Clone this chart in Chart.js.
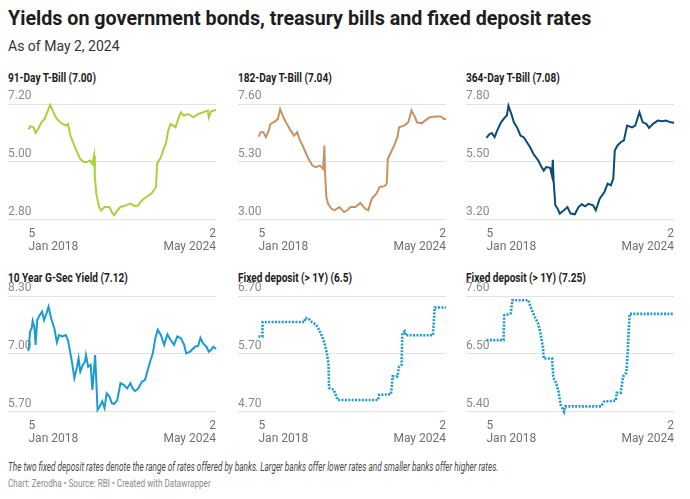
<!DOCTYPE html>
<html lang="en">
<head>
  <meta charset="UTF-8">
  <title>Yields on government bonds, treasury bills and fixed deposit rates</title>
  <script src="https://cdn.jsdelivr.net/npm/chart.js@4.4.1/dist/chart.umd.min.js"></script>
  <style>
    body {
      margin: 0;
      width: 690px;
      height: 499px;
      background: #fff;
      font-family: Roboto, 'Noto Sans', sans-serif;
      color: #1d1d1d;
      position: relative;
      overflow: hidden;
    }
    .hed { position: absolute; left: 8px; top: 5px; font-size: 19.7px; font-weight: 700; line-height: 28px; white-space: nowrap; }
    .dek { position: absolute; left: 8px; top: 37px; font-size: 14px; line-height: 18px; color: #333; }
    .panel-title { position: absolute; font-size: 12px; font-weight: 700; line-height: 16px; color: #1d1d1d;
                   white-space: nowrap; transform: scaleX(0.84); transform-origin: left center; }
    canvas { position: absolute; }
    .note { position: absolute; left: 8px; top: 459px; font-size: 12px; font-style: italic; color: #4a4a4a; line-height: 16px;
            white-space: nowrap; transform: scaleX(0.685); transform-origin: left center; }
    .source { position: absolute; left: 8px; top: 477px; font-size: 11px; color: #8a8a8a; line-height: 14px;
              white-space: nowrap; transform: scaleX(0.74); transform-origin: left center; }
  </style>
</head>
<body>
  <div class="hed">Yields on government bonds, treasury bills and fixed deposit rates</div>
  <div class="dek">As of May 2, 2024</div>
  <div class="note">The two fixed deposit rates denote the range of rates offered by banks. Larger banks offer lower rates and smaller banks offer higher rates.</div>
  <div class="source">Chart: Zerodha • Source: RBI • Created with Datawrapper</div>

  <script>
    // x values = months since 5 Jan 2018 (76 = 2 May 2024)
    const xTickLabels = [['5', 'Jan 2018'], ['2', 'May 2024']];

    const t91X = [0,0.66,1.97,2.88,3.93,5.24,6.55,7.86,8.78,9.83,11.1,12.4,13.8,15.1,16.0,17.0,18.3,19.7,21.0,22.3,23.6,24.9,25.9,26.6,26.9,27.5,28.6,29.5,30.8,32.8,34.1,34.7,36.0,37.3,39.3,41.3,43.2,44.5,45.9,47.8,49.8,51.7,52.1,53.7,55.0,55.7,56.6,57.6,59.6,60.9,61.8,62.9,64.8,66.8,68.8,70.7,72.7,73.1,74.0,76];
    const t91Y = [6.23,6.35,6.32,6.10,6.25,6.50,6.63,6.95,7.17,6.95,6.69,6.54,6.44,6.38,6.44,6.00,5.68,5.37,5.11,4.99,4.99,5.05,4.92,5.24,4.42,3.78,3.28,3.15,3.28,3.28,3.03,2.96,3.15,3.28,3.34,3.41,3.31,3.34,3.53,3.66,3.79,4.04,4.92,5.18,5.56,5.68,6.19,6.44,6.32,6.69,6.88,6.76,6.82,6.69,6.82,6.88,6.95,6.69,6.92,6.97];

    const t182X = [0,0.92,1.97,3.0,3.93,4.85,6.55,7.86,8.78,9.83,11.1,13.1,14.4,15.7,16.8,17.9,19.3,20.6,21.9,23.2,24.9,26.2,26.7,27.0,27.5,28.2,29.5,30.8,32.8,34.7,36.0,37.3,39.3,41.3,43.2,44.5,45.9,47.8,49.1,51.1,52.0,52.4,53.7,55.0,56.3,57.0,59.0,60.7,62.0,63.5,64.2,66.2,67.5,69.4,72.1,74.0,75.1,76];
    const t182Y = [6.30,6.48,6.48,6.28,6.48,6.81,6.90,7.00,7.40,7.14,6.87,6.54,6.34,6.48,6.15,5.95,5.62,5.35,5.15,5.09,5.15,5.02,5.95,4.82,3.90,3.63,3.44,3.37,3.50,3.30,3.37,3.50,3.50,3.66,3.44,3.37,3.83,4.03,4.30,4.33,4.43,5.42,5.68,5.95,6.28,6.67,6.74,6.87,7.34,7.07,6.87,6.83,6.94,7.07,7.10,7.10,7.00,7.00];

    const t364X = [0,1.31,2.23,3.28,4.32,5.9,7.2,8.25,8.9,10.1,11.1,12.4,13.8,15.1,16.4,17.7,19.0,21.0,22.3,23.2,24.2,25.8,26.5,26.9,27.2,27.9,28.8,29.7,31.4,32.8,34.1,35.8,37.3,38.6,40.0,41.3,43.2,44.3,45.9,47.8,49.1,50.4,51.4,52.0,53.1,54.4,55.7,57.0,59.0,60.3,62.0,63.3,64.8,65.9,67.5,69.4,71.4,72.7,74.7,76];
    const t364Y = [6.45,6.61,6.64,6.48,6.74,7.07,7.24,7.34,7.73,7.40,7.07,6.87,6.54,6.48,6.28,6.08,5.82,5.55,5.29,5.15,5.29,5.26,4.96,5.58,4.76,3.77,3.64,3.44,3.57,3.70,3.44,3.41,3.70,3.81,3.73,3.83,3.77,3.57,4.03,4.30,4.63,4.56,4.83,5.95,6.15,6.28,6.35,6.94,6.87,6.94,7.47,7.07,7.01,6.85,7.01,7.14,7.11,7.14,7.07,7.05];

    const gsecX = [0,0.66,1.31,1.7,2.36,2.88,3.54,4.59,5.5,6.29,7.2,8.12,9.17,10.5,11.5,12.4,13.8,15.1,16.0,17.0,17.7,18.6,19.7,20.3,21.0,22.0,22.9,23.3,24.2,25.2,25.9,26.5,27.0,27.5,28.0,28.8,29.9,30.8,31.7,32.8,33.8,34.7,36.0,37.3,38.6,40.0,41.3,42.2,43.2,44.5,45.9,47.2,48.5,49.5,50.4,51.4,52.4,53.7,55.0,56.3,57.6,59.0,60.3,61.8,63.1,63.9,65.5,67.5,68.8,69.7,70.7,72.1,73.1,74.0,74.9,76];
    const gsecY = [7.06,7.50,7.58,7.74,7.61,7.20,7.76,7.87,7.95,7.76,7.89,8.06,7.80,7.57,7.26,7.42,7.39,7.42,7.31,7.01,6.79,6.45,6.71,6.90,6.60,6.75,6.82,6.97,6.71,6.75,6.19,6.60,6.97,6.38,5.74,5.81,5.93,5.78,6.11,6.04,5.89,5.87,5.96,6.34,6.30,6.22,6.34,6.22,6.16,6.22,6.37,6.41,6.67,6.86,7.01,7.35,7.54,7.42,7.20,7.44,7.31,7.20,7.39,7.35,7.20,7.01,7.05,7.16,7.18,7.36,7.24,7.16,7.05,7.09,7.16,7.11];

    const fdLowX = [0,1.57,1.7,18.7,18.9,20.0,21.6,23.2,24.5,25.8,26.9,27.8,28.4,28.6,30.5,32.1,48.5,48.9,53.7,54.4,56.3,57.0,58.0,58.3,59.3,59.6,70.7,71.4,76];
    const fdLowY = [6.00,6.00,6.25,6.25,6.32,6.32,6.25,6.21,6.12,6.00,5.86,5.69,5.51,5.11,5.08,4.90,4.90,4.99,5.00,5.31,5.31,5.48,5.51,6.06,6.09,6.02,6.02,6.50,6.50];

    const fdHighX = [0,6.9,7.2,9.8,10.5,17.0,17.9,19.3,21.0,21.9,22.9,23.2,26.6,27.1,28.2,29.2,30.1,31.4,31.8,46.5,47.6,52.4,52.8,54.4,55.4,56.7,57.2,58.0,76];
    const fdHighY = [6.76,6.76,7.23,7.27,7.52,7.52,7.39,7.23,7.07,6.88,6.62,6.41,6.41,6.04,5.95,5.78,5.53,5.40,5.50,5.50,5.59,5.61,5.76,5.76,6.07,6.14,6.52,7.26,7.26];

    const titles = ['91-Day T-Bill (7.00)', '182-Day T-Bill (7.04)', '364-Day T-Bill (7.08)',
                    '10 Year G-Sec Yield (7.12)', 'Fixed deposit (> 1Y) (6.5)', 'Fixed deposit (> 1Y) (7.25)'];
    const yTicks = [[2.8, 5.0, 7.2], [3.0, 5.3, 7.6], [3.2, 5.5, 7.8],
                    [5.7, 7.0, 8.3], [4.7, 5.7, 6.7], [5.4, 6.5, 7.6]];

    const panels = [
      { xs: t91X, ys: t91Y, color: '#a8d23c', dotted: false },
      { xs: t182X, ys: t182Y, color: '#c99264', dotted: false },
      { xs: t364X, ys: t364Y, color: '#0c4a78', dotted: false },
      { xs: gsecX, ys: gsecY, color: '#1a9bd1', dotted: false },
      { xs: fdLowX, ys: fdLowY, color: '#1a9bd1', dotted: true },
      { xs: fdHighX, ys: fdHighY, color: '#1a9bd1', dotted: true }
    ];

    // layout: left edge of gridlines per column, top gridline per row
    const colLeft = [8, 238, 466];
    const rowGrid = [104, 296];
    const rowTitle = [70, 270];
    const PAD_TOP = 16;

    panels.forEach((p, i) => {
      const col = i % 3, row = Math.floor(i / 3);

      const t = document.createElement('div');
      t.className = 'panel-title';
      t.style.left = colLeft[col] + 'px';
      t.style.top = rowTitle[row] + 'px';
      t.textContent = titles[i];
      document.body.appendChild(t);

      const cv = document.createElement('canvas');
      cv.width = 216; cv.height = 174;
      cv.style.width = '216px'; cv.style.height = '174px';
      cv.style.left = colLeft[col] + 'px';
      cv.style.top = (rowGrid[row] - PAD_TOP) + 'px';
      document.body.appendChild(cv);

      const ticks = yTicks[i];
      new Chart(cv, {
        type: 'line',
        data: {
          datasets: [{
            data: p.xs.map((x, k) => ({ x: x, y: p.ys[k] })),
            borderColor: p.color,
            borderWidth: p.dotted ? 2.6 : 2,
            borderDash: p.dotted ? [2, 1.4] : [],
            pointRadius: 0,
            tension: 0,
            clip: false
          }]
        },
        options: {
          responsive: false,
          animation: false,
          devicePixelRatio: 1,
          layout: { padding: { top: PAD_TOP, left: 0, right: 1, bottom: 0 } },
          plugins: { legend: { display: false }, tooltip: { enabled: false } },
          scales: {
            x: {
              type: 'linear',
              min: -8.3,
              max: 76,
              grid: { display: false, drawTicks: false },
              border: { display: false },
              afterBuildTicks: s => { s.ticks = [{ value: 0 }, { value: 76 }]; },
              ticks: {
                autoSkip: false,
                maxRotation: 0,
                align: 'inner',
                padding: 8,
                color: '#6f6f6f',
                font: { family: 'Roboto', size: 12, lineHeight: 1.1 },
                callback: (v, idx) => xTickLabels[idx]
              }
            },
            y: {
              min: ticks[0],
              max: ticks[2],
              grid: { color: '#e3e3e3', lineWidth: 1, drawTicks: false },
              border: { display: false },
              afterBuildTicks: s => { s.ticks = ticks.map(v => ({ value: v })); },
              ticks: {
                mirror: true,
                padding: 0,
                labelOffset: -8,
                color: '#8a8a8a',
                font: { family: 'Roboto', size: 12 },
                callback: v => Number(v).toFixed(2)
              }
            }
          }
        }
      });
    });
  </script>
</body>
</html>
